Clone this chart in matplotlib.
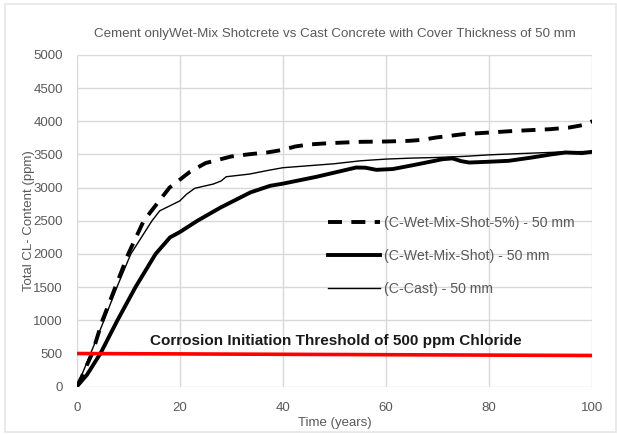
import matplotlib
matplotlib.use("Agg")
import matplotlib.pyplot as plt
from matplotlib.patches import Rectangle

# C-Wet-Mix-Shot-5% (dashed)
years_shot5 = [0, 1, 2, 3, 5, 7.5, 10, 13, 18, 20, 22, 25, 27.5, 30, 33.7, 37, 40,
               42.4, 45, 49, 55, 60, 64.5, 67, 69.7, 74.9, 80, 85, 91.7, 95.5, 98, 100]
cl_shot5 = [0, 150, 330, 500, 1000, 1500, 2000, 2500, 3000, 3120, 3240, 3370, 3420,
            3470, 3505, 3530, 3570, 3620, 3650, 3670, 3690, 3695, 3705, 3720, 3755,
            3805, 3830, 3855, 3880, 3905, 3940, 4000]

# C-Wet-Mix-Shot (thick solid)
years_shot = [0, 2, 4.6, 7.9, 11.4, 15.3, 18.1, 20, 23.4, 27.9, 33.7, 37.5, 40, 46.5,
              54.2, 56, 58.1, 61.3, 66, 71, 72.9, 74.5, 76.1, 80, 83.8, 88.3, 92, 94.8,
              98, 100]
cl_shot = [0, 180, 500, 1000, 1500, 2000, 2250, 2330, 2500, 2700, 2928, 3027, 3060,
           3163, 3303, 3300, 3268, 3280, 3350, 3429, 3440, 3400, 3378, 3390, 3404,
           3454, 3500, 3530, 3520, 3540]

# C-Cast (thin solid)
years_cast = [0, 1, 2.7, 5.3, 7.8, 10.5, 14.6, 16.1, 20, 21.3, 22.9, 26.5, 28, 29,
              33.5, 37.4, 40, 45, 50, 55, 60, 65, 69.7, 75, 80, 85, 91.7, 95, 100]
cl_cast = [0, 180, 500, 1000, 1500, 2000, 2500, 2650, 2800, 2900, 2990, 3054, 3100,
           3164, 3204, 3264, 3300, 3330, 3360, 3404, 3430, 3445, 3454, 3470, 3494,
           3510, 3530, 3540, 3545]

threshold_x = [0, 100]
threshold_y = [500, 470]

labels = ["(C-Wet-Mix-Shot-5%) - 50 mm", "(C-Wet-Mix-Shot) - 50 mm", "(C-Cast) - 50 mm"]

plt.rcParams['font.family'] = ['Liberation Sans', 'DejaVu Sans']
gray = '#595959'

fig = plt.figure(figsize=(6.17, 4.34), dpi=100)
ax = fig.add_axes([0.1243, 0.1090, 0.8357, 0.7645])

# outer chart border
fig.patches.append(Rectangle((0.008, 0.004), 0.99, 0.986, transform=fig.transFigure,
                             fill=False, edgecolor='#e6e6e6', linewidth=1.2))

ax.plot(years_shot5, cl_shot5, color='black', lw=2.8, dashes=(3.6, 2.4), label=labels[0])
ax.plot(years_shot, cl_shot, color='black', lw=2.8, label=labels[1])
ax.plot(years_cast, cl_cast, color='black', lw=1.0, label=labels[2])
ax.plot(threshold_x, threshold_y, color='#ff0000', lw=2.6)

ax.text(50.2, 690, "Corrosion Initiation Threshold of 500 ppm Chloride",
        ha='center', va='center', fontsize=11, fontweight='bold', color='#1a1a1a')

ax.set_xlim(0, 100)
ax.set_ylim(0, 5000)
ax.set_xticks(range(0, 101, 20))
ax.set_yticks(range(0, 5001, 500))
ax.grid(True, color='#d9d9d9', lw=1)
ax.set_axisbelow(True)
for s in ax.spines.values():
    s.set_visible(False)
ax.tick_params(length=0, labelsize=9.5, labelcolor=gray)
ax.tick_params(axis='y', pad=10)
ax.tick_params(axis='x', pad=11)

ax.set_title("Cement onlyWet-Mix Shotcrete vs Cast Concrete with Cover Thickness of 50 mm",
             fontsize=9.6, color=gray, pad=13)
ax.set_xlabel("Time (years)", fontsize=9.5, color=gray, labelpad=2)
ax.set_ylabel("Total CL- Content (ppm)", fontsize=9.5, color=gray, labelpad=-1)

leg = ax.legend(loc='upper left', bbox_to_anchor=(0.487, 0.515), frameon=False,
                borderaxespad=0, borderpad=0,
                fontsize=10.2, handlelength=3.7, handletextpad=0.3, labelspacing=1.36,
                labelcolor=gray)

fig.savefig("out.png", dpi=100)
